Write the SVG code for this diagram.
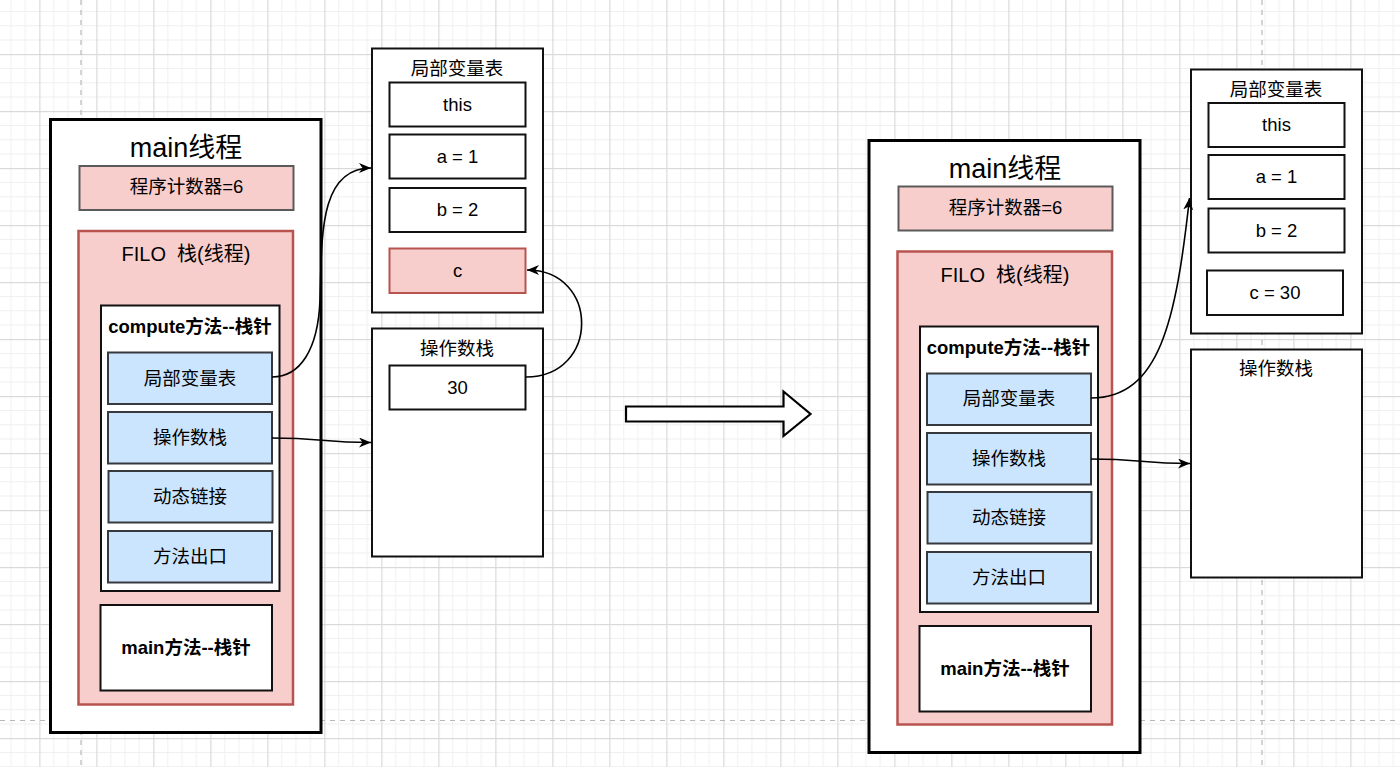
<svg xmlns="http://www.w3.org/2000/svg" width="1400" height="767" viewBox="0 0 1400 767">
<style>
.t{font-family:"Liberation Sans","Noto Sans CJK SC",sans-serif;font-size:18.5px;text-anchor:middle;fill:#000;white-space:pre}
.b{font-weight:bold}
.big{font-size:27px}
.mid{font-size:20px}
.outer{fill:#fff;stroke:#000;stroke-width:3}
.box{fill:#fff;stroke:#111;stroke-width:2}
.pc{fill:#f8cecc;stroke:#5a5a5a;stroke-width:2}
.stack{fill:#f8cecc;stroke:#b85450;stroke-width:2.5}
.red{fill:#f8cecc;stroke:#b85450;stroke-width:2}
.blue{fill:#cce5ff;stroke:#36393d;stroke-width:2}
.edge{fill:none;stroke:#000;stroke-width:1.6}
.dash{stroke:#b8b8b8;stroke-width:1.2;stroke-dasharray:5 5;fill:none}
</style>
<defs>
<pattern id="grid" x="39.3" y="-3" width="57" height="57" patternUnits="userSpaceOnUse">
<rect x="14" y="0" width="1" height="57" fill="#f0f0f0"/>
<rect x="28.25" y="0" width="1" height="57" fill="#f0f0f0"/>
<rect x="42.5" y="0" width="1" height="57" fill="#f0f0f0"/>
<rect x="0" y="14" width="57" height="1" fill="#f0f0f0"/>
<rect x="0" y="28.25" width="57" height="1" fill="#f0f0f0"/>
<rect x="0" y="42.5" width="57" height="1" fill="#f0f0f0"/>
<rect x="0" y="0" width="1.2" height="57" fill="#d9d9d9"/>
<rect x="0" y="0" width="57" height="1.2" fill="#d9d9d9"/>
</pattern>
<marker id="arr" markerUnits="userSpaceOnUse" markerWidth="14" markerHeight="12" refX="12" refY="5" orient="auto">
<path d="M0,0 L12,5 L0,10 L3.5,5 Z" fill="#000"/>
</marker>
</defs>
<rect width="1400" height="767" fill="#fff"/>
<rect width="1400" height="767" fill="url(#grid)"/>
<g id="page-bounds">
<line class="dash" x1="81" y1="0" x2="81" y2="767"/>
<line class="dash" x1="1262" y1="0" x2="1262" y2="767"/>
<line class="dash" x1="0" y1="720.5" x2="1400" y2="720.5"/>
</g>

<!-- LEFT -->
<g id="main-thread-left">
<rect class="outer" x="50.5" y="119.5" width="270.5" height="613"/>
<text class="t big" x="186" y="157">main线程</text>
</g>
<g id="pc-left">
<rect class="pc" x="79.5" y="166" width="214" height="44"/>
<text class="t" x="186.5" y="193">程序计数器=6</text>
</g>
<g id="stack-left">
<rect class="stack" x="78.5" y="231" width="214.5" height="473.5"/>
<text class="t mid" x="186" y="261">FILO  栈(线程)</text>
</g>
<g id="compute-frame-left">
<rect class="box" x="101" y="305.5" width="178.5" height="285.5"/>
<text class="t b" x="190" y="333">compute方法--栈针</text>
</g>
<g id="lvt-ref-left">
<rect class="blue" x="108" y="352.5" width="164" height="51.5"/>
<text class="t" x="190" y="384.5">局部变量表</text>
</g>
<g id="ops-ref-left">
<rect class="blue" x="108" y="412" width="164" height="51.5"/>
<text class="t" x="190" y="444">操作数栈</text>
</g>
<g id="dyn-left">
<rect class="blue" x="108.5" y="471" width="164" height="51.5"/>
<text class="t" x="190" y="503">动态链接</text>
</g>
<g id="exit-left">
<rect class="blue" x="108" y="531" width="164" height="51.5"/>
<text class="t" x="190" y="563">方法出口</text>
</g>
<g id="main-frame-left">
<rect class="box" x="100.5" y="605" width="171.5" height="85.5"/>
<text class="t b" x="186" y="654">main方法--栈针</text>
</g>
<g id="lvt-left">
<rect class="box" x="372" y="48.5" width="171" height="264"/>
<text class="t" x="457" y="75">局部变量表</text>
</g>
<g id="this-left">
<rect class="box" x="389.5" y="82.5" width="136" height="44"/>
<text class="t" x="457.5" y="110.5">this</text>
</g>
<g id="a-left">
<rect class="box" x="389.5" y="134.5" width="136" height="44"/>
<text class="t" x="457.5" y="162.5">a = 1</text>
</g>
<g id="b-left">
<rect class="box" x="389.5" y="188" width="136" height="44"/>
<text class="t" x="457.5" y="216">b = 2</text>
</g>
<g id="c-left">
<rect class="red" x="389.5" y="248.5" width="136" height="44.5"/>
<text class="t" x="457.5" y="276.5">c</text>
</g>
<g id="ops-left">
<rect class="box" x="372" y="328.5" width="171" height="228"/>
<text class="t" x="457" y="354.5">操作数栈</text>
</g>
<g id="v30-left">
<rect class="box" x="389.5" y="365.5" width="136" height="44"/>
<text class="t" x="457.5" y="393.5">30</text>
</g>

<!-- transition arrow -->
<g id="transition">
<path d="M626,406.5 H783.5 V391.5 L810.5,414 L783.5,436 V421.5 H626 Z" fill="#fff" stroke="#000" stroke-width="2.2" stroke-linejoin="miter"/>
</g>

<!-- RIGHT -->
<g id="main-thread-right">
<rect class="outer" x="869" y="140.5" width="271" height="612"/>
<text class="t big" x="1005" y="178">main线程</text>
</g>
<g id="pc-right">
<rect class="pc" x="898.5" y="186.5" width="214" height="44"/>
<text class="t" x="1005.5" y="214">程序计数器=6</text>
</g>
<g id="stack-right">
<rect class="stack" x="897.5" y="251.5" width="214.5" height="473"/>
<text class="t mid" x="1005" y="282">FILO  栈(线程)</text>
</g>
<g id="compute-frame-right">
<rect class="box" x="920" y="326.5" width="178" height="285.5"/>
<text class="t b" x="1008.5" y="354">compute方法--栈针</text>
</g>
<g id="lvt-ref-right">
<rect class="blue" x="927" y="373.5" width="164" height="51.5"/>
<text class="t" x="1009" y="405">局部变量表</text>
</g>
<g id="ops-ref-right">
<rect class="blue" x="927" y="433" width="164" height="51.5"/>
<text class="t" x="1009" y="465">操作数栈</text>
</g>
<g id="dyn-right">
<rect class="blue" x="927.5" y="492" width="164" height="51.5"/>
<text class="t" x="1009" y="524">动态链接</text>
</g>
<g id="exit-right">
<rect class="blue" x="927" y="552" width="164" height="51.5"/>
<text class="t" x="1009" y="584">方法出口</text>
</g>
<g id="main-frame-right">
<rect class="box" x="919.5" y="626" width="171.5" height="85.5"/>
<text class="t b" x="1005" y="675">main方法--栈针</text>
</g>
<g id="lvt-right">
<rect class="box" x="1191" y="69.5" width="171" height="264"/>
<text class="t" x="1276" y="96">局部变量表</text>
</g>
<g id="this-right">
<rect class="box" x="1208.5" y="103" width="136" height="44"/>
<text class="t" x="1276.5" y="131">this</text>
</g>
<g id="a-right">
<rect class="box" x="1208.5" y="155" width="136" height="44"/>
<text class="t" x="1276.5" y="183">a = 1</text>
</g>
<g id="b-right">
<rect class="box" x="1208.5" y="208.5" width="136" height="44"/>
<text class="t" x="1276.5" y="236.5">b = 2</text>
</g>
<g id="c-right">
<rect class="box" x="1207" y="270.5" width="136" height="44.5"/>
<text class="t" x="1275" y="299">c = 30</text>
</g>
<g id="ops-right">
<rect class="box" x="1191" y="349.5" width="171" height="228"/>
<text class="t" x="1276" y="375">操作数栈</text>
</g>

<g id="connectors">
<path class="edge" marker-end="url(#arr)" d="M272,377 C300,377 318,350 320,300 C322,240 318,168 371,168"/>
<path class="edge" marker-end="url(#arr)" d="M272,438 C322,438 322,442.5 371,442.5"/>
<path class="edge" marker-end="url(#arr)" d="M526,377 C600,377 600,270 527,270"/>
<path class="edge" marker-end="url(#arr)" d="M1091,398 C1160,398 1176,320 1189.5,198"/>
<path class="edge" marker-end="url(#arr)" d="M1091,459 C1141,459 1141,463.5 1190,463.5"/>
</g>
</svg>
